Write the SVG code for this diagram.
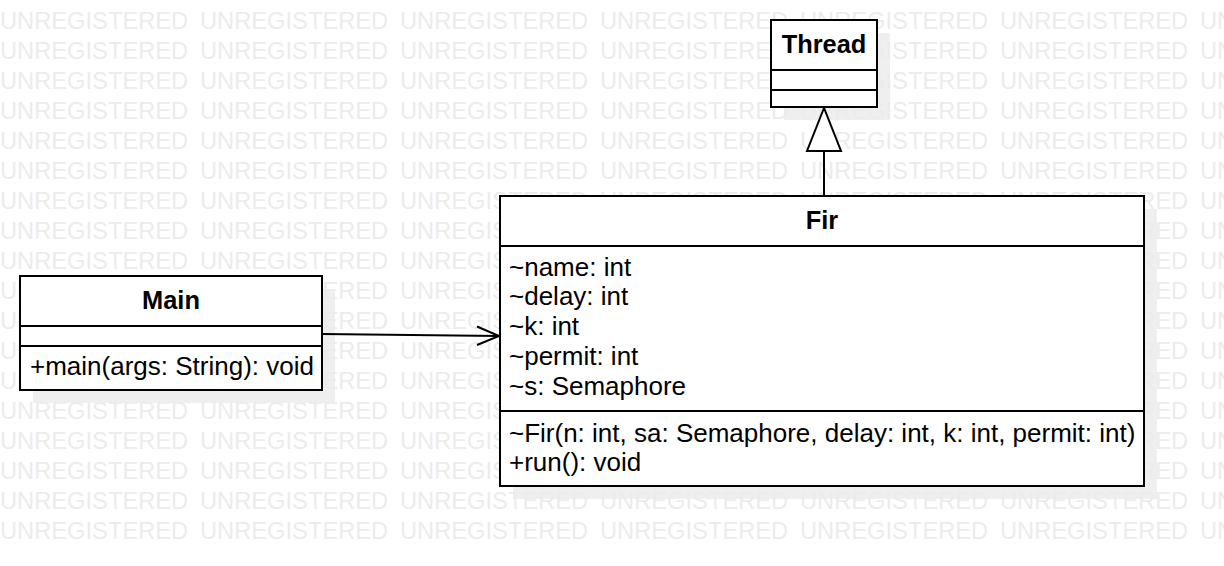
<svg xmlns="http://www.w3.org/2000/svg" width="1224" height="566" viewBox="0 0 1224 566">
<style>
.wm{font-family:"Liberation Sans",Arial,sans-serif;font-size:23.7px;fill:#ececec}
.shadow{fill:#efefef}
.box{fill:#fff;stroke:#000;stroke-width:2}
.sep{stroke:#000;stroke-width:2}
.t{font-family:"Liberation Sans",Arial,sans-serif;font-size:26px;fill:#000}
.b{font-family:"Liberation Sans",Arial,sans-serif;font-size:25.4px;font-weight:bold;fill:#000;text-anchor:middle}
.edge{fill:none;stroke:#000;stroke-width:2}
</style>
<defs>
<text id="wmrow" class="wm" y="0"><tspan x="0">UNREGISTERED</tspan><tspan x="200">UNREGISTERED</tspan><tspan x="400">UNREGISTERED</tspan><tspan x="600">UNREGISTERED</tspan><tspan x="800">UNREGISTERED</tspan><tspan x="1000">UNREGISTERED</tspan><tspan x="1200">UNREGISTERED</tspan></text>
</defs>
<rect width="1224" height="566" fill="#fff"/>
<g id="shadows">
<rect class="shadow" x="784" y="33" width="106" height="87"/>
<rect class="shadow" x="33" y="289" width="302" height="114"/>
<rect class="shadow" x="513" y="209" width="644" height="290"/>
</g>
<g id="watermark">
<use href="#wmrow" y="28.5"/><use href="#wmrow" y="58.5"/><use href="#wmrow" y="88.5"/><use href="#wmrow" y="118.5"/><use href="#wmrow" y="148.5"/><use href="#wmrow" y="178.5"/><use href="#wmrow" y="208.5"/><use href="#wmrow" y="238.5"/><use href="#wmrow" y="268.5"/><use href="#wmrow" y="298.5"/><use href="#wmrow" y="328.5"/><use href="#wmrow" y="358.5"/><use href="#wmrow" y="388.5"/><use href="#wmrow" y="418.5"/><use href="#wmrow" y="448.5"/><use href="#wmrow" y="478.5"/><use href="#wmrow" y="508.5"/><use href="#wmrow" y="538.5"/>
</g>
<g id="connectors">
<path class="edge" d="M322,334 L499,336"/>
<path class="edge" d="M477,326.5 L499,336 L477,345"/>
<path class="edge" d="M824,196 L824,151"/>
<polygon points="824,108 807,151 841,151" fill="#fff" stroke="#000" stroke-width="2"/>
</g>
<g id="Thread">
<rect class="box" x="771" y="20" width="106" height="87"/>
<line class="sep" x1="771" y1="70" x2="877" y2="70"/>
<line class="sep" x1="771" y1="90" x2="877" y2="90"/>
<text class="b" x="824" y="53">Thread</text>
</g>
<g id="Main">
<rect class="box" x="20" y="276" width="302" height="114"/>
<line class="sep" x1="20" y1="326" x2="322" y2="326"/>
<line class="sep" x1="20" y1="346" x2="322" y2="346"/>
<text class="b" x="171" y="309">Main</text>
<text class="t" x="30" y="375">+main(args: String): void</text>
</g>
<g id="Fir">
<rect class="box" x="500" y="196" width="644" height="290"/>
<line class="sep" x1="500" y1="246" x2="1144" y2="246"/>
<line class="sep" x1="500" y1="411" x2="1144" y2="411"/>
<text class="b" x="822" y="229">Fir</text>
<text class="t" x="509" y="276">~name: int</text>
<text class="t" x="509" y="305">~delay: int</text>
<text class="t" x="509" y="335">~k: int</text>
<text class="t" x="509" y="365">~permit: int</text>
<text class="t" x="509" y="395">~s: Semaphore</text>
<text class="t" x="509" y="442">~Fir(n: int, sa: Semaphore, delay: int, k: int, permit: int)</text>
<text class="t" x="509" y="471">+run(): void</text>
</g>
</svg>
